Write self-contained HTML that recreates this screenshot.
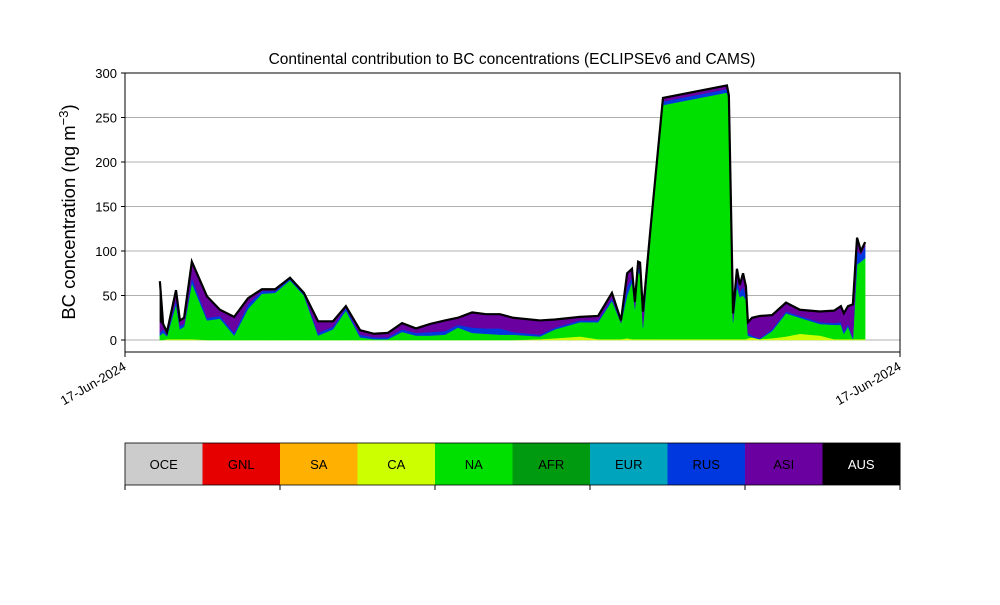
<!DOCTYPE html>
<html><head><meta charset="utf-8"><style>
body{margin:0;background:#fff;font-family:"Liberation Sans",sans-serif}
svg text{font-family:"Liberation Sans",sans-serif}
</style></head><body>
<svg id="chart" width="1000" height="600" xmlns="http://www.w3.org/2000/svg">
<rect width="1000" height="600" fill="#fff"/>
<text x="512" y="64" font-size="15.5" text-anchor="middle">Continental contribution to BC concentrations (ECLIPSEv6 and CAMS)</text>
<text transform="translate(75,212) rotate(-90)" font-size="18.5" text-anchor="middle">BC concentration (ng m<tspan dy="-7" font-size="13">−3</tspan><tspan dy="7">)</tspan></text>
<g id="grid"></g><g id="areas"></g><g id="axes"></g><g id="legend"></g>
</svg>
<script>
const hours=[1.08,1.18,1.30,1.58,1.70,1.83,2.07,2.54,2.94,3.38,3.81,4.24,4.65,5.11,5.54,5.98,6.44,6.84,7.28,7.71,8.14,8.58,9.01,9.45,9.91,10.31,10.75,11.18,11.61,12.02,12.85,13.32,14.09,14.65,15.08,15.36,15.55,15.70,15.79,15.89,15.95,16.04,16.26,16.66,18.64,18.70,18.83,18.95,19.04,19.14,19.23,19.29,19.42,19.66,20.04,20.47,20.90,21.52,21.96,22.17,22.26,22.39,22.54,22.67,22.79,22.92];
const ca=[0,0,1,1,1,1,1,0,0,0,0,0,0,0,0,0,0,0,0,0,0,0,0,0,0,0,0,0,0,0,1,2,4,1,1,1,2,1,1,1,1,1,1,1,1,1,1,1,1,1,1,2,3,1,2,4,7,5,1,1,1,1,1,1,1,1];
const na=[5,8,3,39,11,14,63,22,24,5,35,52,53,67,50,5,12,33,3,1,1,9,5,5,6,14,8,7,6,6,3,10,16,19,43,18,48,64,34,74,74,13,111,263,277,269,19,59,47,49,44,3,0,0,8,26,18,13,16,16,6,14,0,84,87,91];
const rus=[3,4,2,5,4,3,6,3,3,3,5,3,2,2,2,3,3,3,3,2,2,3,3,4,4,3,6,6,7,3,2,2,2,2,3,1,10,5,3,5,5,4,3,4,4,2,3,8,6,10,5,3,2,1,2,2,2,2,2,3,3,3,2,15,8,13];
const asi=[12,6,3,11,6,7,18,24,7,18,7,2,2,1,1,13,6,2,5,4,5,7,5,9,12,8,17,16,16,16,16,9,4,5,6,2,15,10,5,8,7,14,5,4,4,3,7,12,8,15,10,12,20,25,16,10,7,12,14,18,20,20,37,15,4,5];
const aus=[46,0,0,0,0,0,0,0,0,0,0,0,0,0,0,0,0,0,0,0,0,0,0,0,0,0,0,0,0,0,0,0,0,0,0,0,0,0,0,0,0,0,0,0,0,0,0,0,0,0,0,0,0,0,0,0,0,0,0,0,0,0,0,0,0,0];
const yTicks=[0,50,100,150,200,250,300];
const xTickLabels=["17-Jun-2024","17-Jun-2024"];
const regions=["OCE","GNL","SA","CA","NA","AFR","EUR","RUS","ASI","AUS"];
const regionColors=["#cccccc","#e60000","#ffb000","#ccff00","#00e000","#009a10","#00a5bd","#0038e0","#6a00a0","#000000"];
const NS="http://www.w3.org/2000/svg";
const L=125,R=900,T=73,B=352;
const X=h=>L+h*(R-L)/24;
const Y=v=>340-v*(340-73)/300;
function mk(tag,attrs,parent){const e=document.createElementNS(NS,tag);for(const k in attrs)e.setAttribute(k,attrs[k]);parent.appendChild(e);return e;}
const grid=document.getElementById('grid'),areas=document.getElementById('areas'),axes=document.getElementById('axes'),leg=document.getElementById('legend');
yTicks.forEach(v=>{
 const g=mk('line',{x1:L,x2:R,y1:Y(v),y2:Y(v),stroke:'#b0b0b0','stroke-width':1},grid);
 
 
 const t=mk('line',{x1:L-4,x2:L,y1:Y(v),y2:Y(v),stroke:'#000'},axes);
 
 
 const tx=mk('text',{x:L-8,y:Y(v)+5,'font-size':13,'text-anchor':'end'},axes);
 tx.textContent=v;
 
 
});
const layers=[[ca,'#ccff00','ca-area'],[na,'#00e000','na-area'],[rus,'#0038e0','rus-area'],[asi,'#6a00a0','asi-area'],[aus,'#000000','aus-area']];
let base=hours.map(()=>0);
layers.forEach(([arr,col,name])=>{
 const top=base.map((b,i)=>b+arr[i]);
 let d='M'+hours.map((h,i)=>X(h)+','+Y(top[i])).join('L');
 for(let i=hours.length-1;i>=0;i--)d+='L'+X(hours[i])+','+Y(base[i]);
 const p=mk('path',{d:d+'Z',fill:col,stroke:col,'stroke-width':0.5},areas);
 
 
 base=top;
});
const topLine=mk('path',{d:'M'+hours.map((h,i)=>X(h)+','+Y(base[i])).join('L'),fill:'none',stroke:'#000','stroke-width':2.2},areas);


const frame=mk('rect',{x:L,y:T,width:R-L,height:B-T,fill:'none',stroke:'#000','stroke-width':1},axes);


[L,R].forEach((x,i)=>{
 const t=mk('line',{x1:x,x2:x,y1:B,y2:B+5,stroke:'#000'},axes);
 
 
 const tx=mk('text',{x:0,y:0,'font-size':13,'text-anchor':'end',transform:`translate(${x+2},${B+17}) rotate(-30)`},axes);
 tx.textContent=xTickLabels[i];
 
 
});
const cw=(R-L)/regions.length;
regions.forEach((r,i)=>{
 const c=mk('rect',{x:L+i*cw,y:443,width:cw+0.5,height:42,fill:regionColors[i]},leg);
 
 
 const t=mk('text',{x:L+i*cw+cw/2,y:469,'font-size':13,'text-anchor':'middle',fill:i==9?'#fff':'#000'},leg);
 t.textContent=r;
 
 
});
const lf=mk('rect',{x:L,y:443,width:R-L,height:42,fill:'none',stroke:'#000','stroke-width':0.8},leg);


for(let i=0;i<=regions.length;i+=2){
 const t=mk('line',{x1:L+i*cw,x2:L+i*cw,y1:485,y2:490,stroke:'#000'},leg);
 
 
}
</script>
</body></html>
